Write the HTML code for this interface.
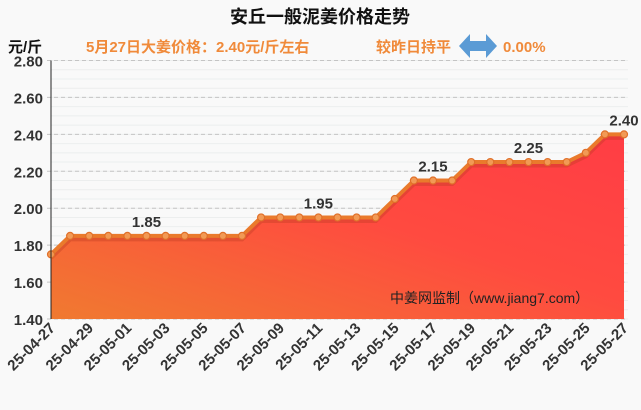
<!DOCTYPE html>
<html><head><meta charset="utf-8"><style>
body{margin:0;background:#f9f9f9;}
svg{display:block;font-family:"Liberation Sans","Noto Sans CJK SC",sans-serif;}
</style></head><body>
<svg id="c" width="641" height="410">
<defs>
<linearGradient id="g" x1="0" y1="1" x2="1" y2="0">
<stop offset="0" stop-color="#f07a30"/><stop offset="0.55" stop-color="#ff4a40"/><stop offset="1" stop-color="#ff3d45"/>
</linearGradient>
</defs>
<text x="320" y="23" text-anchor="middle" font-size="18" font-weight="bold" fill="#111">安丘一般泥姜价格走势</text>
<text x="8" y="52" font-size="15" font-weight="bold" fill="#111">元/斤</text>
<text x="86" y="52" font-size="15" font-weight="bold" fill="#f08a3a">5月27日大姜价格：2.40元/斤左右</text>
<text x="376" y="52" font-size="15" font-weight="bold" fill="#f08a3a">较昨日持平</text>
<polygon points="459,46 470,34 470,41 486,41 486,34 497,46 486,58 486,51 470,51 470,58" fill="#5b9bd5"/>
<text x="503" y="52" font-size="15" font-weight="bold" fill="#f08a3a">0.00%</text>
<g id="plot"></g>
<text x="390" y="303" font-size="14" fill="#222">中姜网监制（www.jiang7.com）</text>
</svg>
<script>
const dates=["25-04-27","25-04-28","25-04-29","25-04-30","25-05-01","25-05-02","25-05-03","25-05-04","25-05-05","25-05-06","25-05-07","25-05-08","25-05-09","25-05-10","25-05-11","25-05-12","25-05-13","25-05-14","25-05-15","25-05-16","25-05-17","25-05-18","25-05-19","25-05-20","25-05-21","25-05-22","25-05-23","25-05-24","25-05-25","25-05-26","25-05-27"];
const prices=[1.75,1.85,1.85,1.85,1.85,1.85,1.85,1.85,1.85,1.85,1.85,1.95,1.95,1.95,1.95,1.95,1.95,1.95,2.05,2.15,2.15,2.15,2.25,2.25,2.25,2.25,2.25,2.25,2.30,2.40,2.40];
const yTicks=[1.40,1.60,1.80,2.00,2.20,2.40,2.60,2.80];
const labelIdx=[5,14,20,25,30];
const NS="http://www.w3.org/2000/svg";
const X0=51,X1=624,Y0=319,Y1=60.5,VMIN=1.4,VMAX=2.8;
const x=i=>X0+(X1-X0)*i/(dates.length-1);
const y=v=>Y0-(v-VMIN)/(VMAX-VMIN)*(Y0-Y1);
const p=document.getElementById('plot');
function mk(t,a,par){const e=document.createElementNS(NS,t);for(const k in a)e.setAttribute(k,a[k]);(par||p).appendChild(e);return e;}
for(let v=VMIN;v<=VMAX+1e-9;v+=0.05){const l=mk('line',{x1:X0,x2:X1+4,y1:y(v),y2:y(v),stroke:'#eceeee','stroke-width':1});

}
yTicks.forEach(v=>{const l=mk('line',{x1:X0-4,x2:X1+4,y1:y(v),y2:y(v),stroke:'#c4c4c4','stroke-dasharray':'4,3'});


const t=mk('text',{x:X0-8,y:y(v)+6,'text-anchor':'end','font-size':15,'font-weight':'bold',fill:'#333'});t.textContent=v.toFixed(2);

});
let d='M'+x(0)+','+Y0;prices.forEach((v,i)=>d+=' L'+x(i)+','+y(v));d+=' L'+x(prices.length-1)+','+Y0+'Z';
const area=mk('path',{d:d,fill:'url(#g)'});


let ld='';prices.forEach((v,i)=>ld+=(i?' L':'M')+x(i)+','+y(v));
const sh=mk('path',{d:ld,fill:'none',stroke:'#b83a20','stroke-width':5,opacity:0.35,transform:'translate(0,3)'});


const line=mk('path',{d:ld,fill:'none',stroke:'#ea7a2c','stroke-width':4});


prices.forEach((v,i)=>{const c=mk('circle',{cx:x(i),cy:y(v),r:3.5,fill:'#f29a55',stroke:'#e0702a','stroke-width':1.2});

});
labelIdx.forEach(i=>{const t=mk('text',{x:x(i),y:y(prices[i])-9,'text-anchor':'middle','font-size':15,'font-weight':'bold',fill:'#333'});t.textContent=prices[i].toFixed(2);

});
const ax=mk('line',{x1:X0,x2:X0,y1:Y1,y2:Y0,stroke:'#222','stroke-width':1});


dates.forEach((s,i)=>{if(i%2)return;const t=mk('text',{x:x(i)+5,y:Y0+10,'text-anchor':'end','font-size':15,'font-weight':'bold',fill:'#333',transform:`rotate(-45 ${x(i)+5} ${Y0+10})`});t.textContent=s;

});
</script>
</body></html>
